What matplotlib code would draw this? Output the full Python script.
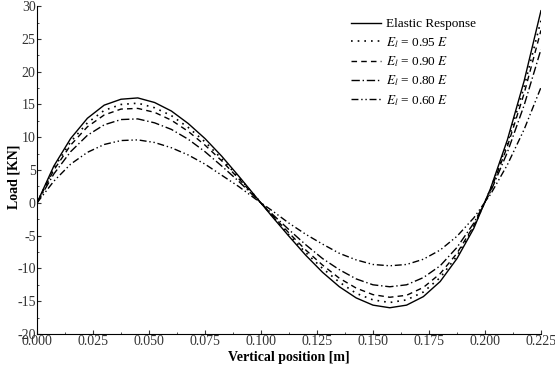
import numpy as np
import matplotlib
matplotlib.use("Agg")
import matplotlib.pyplot as plt
from matplotlib.ticker import MultipleLocator

plt.rcParams['font.family'] = ['Liberation Serif', 'DejaVu Serif']
plt.rcParams['mathtext.fontset'] = 'stix'
plt.rcParams['axes.unicode_minus'] = False

# vertical position [m]
position = [0.0, 0.0075, 0.015, 0.0225, 0.03, 0.0375, 0.045, 0.0525, 0.06, 0.0675,
            0.075, 0.0825, 0.09, 0.0975, 0.105, 0.1125, 0.12, 0.1275, 0.135, 0.1425,
            0.15, 0.1575, 0.165, 0.1725, 0.18, 0.1875, 0.195, 0.2025, 0.21, 0.2175, 0.225]

# load [KN]
elastic = [0, 5.6, 9.8, 12.9, 14.9, 15.8, 16.0, 15.3, 14.0, 12.1, 9.8, 7.1, 4.1, 1.0,
           -2.1, -5.1, -8.0, -10.6, -12.8, -14.5, -15.6, -16.0, -15.6, -14.3, -12.0,
           -8.5, -3.9, 2.2, 9.6, 18.6, 29.3]
e095 = [0, 5.3, 9.3, 12.2, 14.1, 15.0, 15.2, 14.5, 13.3, 11.5, 9.3, 6.7, 3.9, 1.0,
        -2.0, -4.9, -7.6, -10.0, -12.1, -13.8, -14.8, -15.2, -14.8, -13.6, -11.4,
        -8.1, -3.7, 2.1, 9.1, 17.7, 27.8]
e090 = [0, 5.0, 8.8, 11.6, 13.4, 14.3, 14.4, 13.8, 12.6, 10.9, 8.8, 6.4, 3.7, 0.9,
        -1.9, -4.6, -7.2, -9.5, -11.5, -13.0, -14.0, -14.4, -14.1, -12.9, -10.8,
        -7.7, -3.5, 1.9, 8.6, 16.7, 26.3]
e080 = [0, 4.4, 7.8, 10.3, 11.9, 12.7, 12.8, 12.2, 11.2, 9.7, 7.8, 5.6, 3.3, 0.8,
        -1.7, -4.1, -6.4, -8.5, -10.2, -11.6, -12.5, -12.8, -12.5, -11.4, -9.6,
        -6.8, -3.1, 1.7, 7.7, 14.9, 23.4]
e060 = [0, 3.3, 5.9, 7.7, 8.9, 9.5, 9.6, 9.2, 8.4, 7.3, 5.9, 4.2, 2.5, 0.6,
        -1.2, -3.1, -4.8, -6.3, -7.7, -8.7, -9.4, -9.6, -9.4, -8.6, -7.2,
        -5.1, -2.3, 1.3, 5.8, 11.2, 17.6]

labels = ["Elastic Response", r"$E_l$ = 0.95 $E$", r"$E_l$ = 0.90 $E$",
          r"$E_l$ = 0.80 $E$", r"$E_l$ = 0.60 $E$"]

fig = plt.figure(figsize=(5.55, 3.73), dpi=100)
ax = fig.add_axes([0.0667, 0.1046, 0.908, 0.879])

x = np.array(position)
ax.plot(x, elastic, color="black", lw=1.0, ls="-", label=labels[0])
ax.plot(x, e095, color="black", lw=1.2, ls=(0, (1, 3)), label=labels[1])
ax.plot(x, e090, color="black", lw=1.0, ls=(0, (4, 3)), label=labels[2])
ax.plot(x, e080, color="black", lw=1.0, ls=(0, (6, 2, 1, 2)), label=labels[3])
ax.plot(x, e060, color="black", lw=1.0, ls=(0, (5, 2, 1, 2, 1, 2)), label=labels[4])

ax.set_xlim(0, 0.225)
ax.set_ylim(-20, 30)
ax.xaxis.set_major_locator(MultipleLocator(0.025))
ax.xaxis.set_minor_locator(MultipleLocator(0.0125))
ax.yaxis.set_major_locator(MultipleLocator(5))
ax.yaxis.set_minor_locator(MultipleLocator(2.5))
ax.xaxis.set_major_formatter(plt.FormatStrFormatter("%.3f"))
ax.tick_params(which="both", direction="in", labelsize=10, colors="#333333")
ax.tick_params(which="major", length=3)
ax.tick_params(which="minor", length=1.5)
ax.tick_params(axis="x", pad=1)
ax.tick_params(axis="y", pad=1)

ax.spines["top"].set_visible(False)
ax.spines["right"].set_visible(False)

ax.set_xlabel("Vertical position [m]", fontsize=10, fontweight="bold", labelpad=2)
ax.set_ylabel("Load [KN]", fontsize=10, fontweight="bold")
ax.yaxis.set_label_coords(-0.033, 0.48)

ax.legend(loc="upper right", bbox_to_anchor=(0.895, 1.0), frameon=False,
          fontsize=9.5, handlelength=2.3, handletextpad=0.4, labelspacing=0.35)

fig.savefig("out.png", dpi=100)
